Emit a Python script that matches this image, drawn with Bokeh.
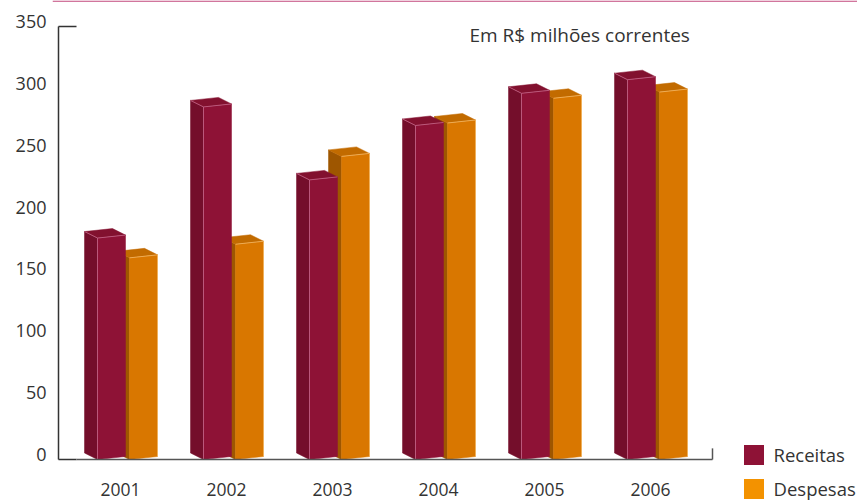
from bokeh.plotting import figure
from bokeh.models import (Range1d, LinearAxis, FixedTicker, Legend, LegendItem,
                          Label, ColumnDataSource, BoxAnnotation)
from bokeh.core.properties import value
from bokeh.embed import file_html
from bokeh.resources import INLINE

# ---------------- data ----------------
years = ["2001", "2002", "2003", "2004", "2005", "2006"]
receitas = [179, 285, 226, 270, 296, 307]
despesas = [163, 174, 245, 272, 292, 297]
y_ticks = [0, 50, 100, 150, 200, 250, 300, 350]
series_names = ["Receitas", "Despesas"]
unit_note = "Em R$ milhões correntes"

# ---------------- style ----------------
FONT = "Open Sans"
TXT = "#333333"
R_FRONT, R_SIDE, R_TOP, R_EDGE = "#8E1236", "#740E2B", "#82112F", "#C4668A"
D_FRONT, D_SIDE, D_TOP, D_EDGE = "#D97700", "#9E5600", "#C26B00", "#F3B865"
R_LEG, D_LEG = "#8E1236", "#F39200"
RULE = "#C2497C"

# geometry (1 x-unit = one group spacing of 106 px)
PX = 1 / 106.0          # x-units per pixel
K = 433 / 350.0         # pixels per value unit
W = 28 * PX             # front face width
G = 2 * PX              # half gap between the pair
DX = -13 * PX           # depth offset (x)
DY = 6.5 / K            # depth offset (y)
SK = 3 / K              # perspective skew of the front face

FIG_H = 501
ZERO = 459              # pixel row of value 0
xs0, xe0 = (52 - 127) * PX, (857 - 127) * PX
ys0, ye0 = (ZERO - FIG_H) / K, ZERO / K

p = figure(width=857, height=FIG_H, output_backend="svg", toolbar_location=None,
           x_range=Range1d(xs0, xe0), y_range=Range1d(ys0, ye0),
           x_axis_location=None, y_axis_location=None,
           min_border_left=52, min_border_right=0, min_border_top=0,
           min_border_bottom=0)
p.grid.visible = False
p.outline_line_color = None
p.background_fill_color = "white"
p.border_fill_color = "white"


def faces(x0, v):
    x1 = x0 + W
    side = ([x0 + DX, x0, x0, x0 + DX], [DY, 0, v, v + DY])
    top = ([x0, x1, x1 + DX, x0 + DX], [v, v + SK, v + SK + DY, v + DY])
    front = ([x0, x1, x1, x0], [0, SK, v + SK, v])
    return side, top, front


def draw_series(vals, offset, cols, edge_mode):
    side_c, top_c, front_c, edge_c = cols
    S = {"xs": [], "ys": []}
    T = {"xs": [], "ys": []}
    F = {"xs": [], "ys": []}
    E = {"xs": [], "ys": []}
    for i, v in enumerate(vals):
        x0 = i + offset
        s, t, f = faces(x0, v)
        for d, g in ((S, s), (T, t), (F, f)):
            d["xs"].append(g[0])
            d["ys"].append(g[1])
        x1 = x0 + W
        E["xs"].append([x0, x1])
        E["ys"].append([v, v + SK])
        if edge_mode == "left":
            E["xs"].append([x0, x0])
            E["ys"].append([0, v])
            E["xs"].append([x0, x0 + DX])
            E["ys"].append([v, v + DY])
        else:
            E["xs"].append([x1, x1])
            E["ys"].append([SK, v + SK])
    p.patches("xs", "ys", source=ColumnDataSource(S), fill_color=side_c, line_color=side_c, line_width=0.5)
    p.patches("xs", "ys", source=ColumnDataSource(T), fill_color=top_c, line_color=top_c, line_width=0.5)
    p.patches("xs", "ys", source=ColumnDataSource(F), fill_color=front_c, line_color=front_c, line_width=0.5)
    p.multi_line("xs", "ys", source=ColumnDataSource(E), line_color=edge_c, line_width=1, line_alpha=0.8)


# despesas first (behind), receitas on top
draw_series(despesas, G, (D_SIDE, D_TOP, D_FRONT, D_EDGE), "right")
draw_series(receitas, -G - W, (R_SIDE, R_TOP, R_FRONT, R_EDGE), "left")

# axis lines drawn as segments
ax_x = (58 - 127) * PX
tick_end = (76 - 127) * PX
x_end = (712 - 127) * PX
p.segment(x0=[ax_x, ax_x, ax_x], y0=[0, y_ticks[-1], 0], x1=[ax_x, tick_end, tick_end],
          y1=[y_ticks[-1], y_ticks[-1], 0], line_color="#333333", line_width=1.5)
p.segment(x0=[tick_end, x_end], y0=[0, 0], x1=[x_end, x_end], y1=[0, 9],
          line_color="#555555", line_width=1.5)

# y tick labels (shifted slightly upward as in the original)
d_lab = 5 / K
p.extra_y_ranges = {"lab": Range1d(ys0 - d_lab, ye0 - d_lab)}
yax = LinearAxis(y_range_name="lab", ticker=FixedTicker(ticks=y_ticks),
                 axis_line_color=None, major_tick_line_color=None,
                 minor_tick_line_color=None, major_tick_out=0, major_tick_in=0,
                 major_label_standoff=6, major_label_text_font=FONT,
                 major_label_text_font_size="18px", major_label_text_color=TXT)
p.add_layout(yax, "left")

# category labels under each pair of bars
lab_src = ColumnDataSource(dict(x=[i - 7 * PX for i in range(len(years))],
                                y=[-30 / K] * len(years), text=years))
p.text(x="x", y="y", text="text", source=lab_src, text_font=value(FONT),
       text_font_size="17.5px", text_color=TXT, text_align="center",
       text_baseline="middle")

# unit note
p.add_layout(Label(x=(469 - 127) * PX, y=(459 - 34) / K, text=unit_note,
                   text_font=FONT, text_font_size="19px", text_color=TXT,
                   text_baseline="alphabetic", text_align="left"))

# legend (swatch renderers hold one off-screen point each)
far = ye0 + 1000
r_leg = p.quad(left=[0], right=[0.1], top=[far + 1], bottom=[far], fill_color=R_LEG, line_color=None)
d_leg = p.quad(left=[0], right=[0.1], top=[far + 1], bottom=[far], fill_color=D_LEG, line_color=None)
legend = Legend(items=[LegendItem(label=series_names[0], renderers=[r_leg]),
                       LegendItem(label=series_names[1], renderers=[d_leg])],
                location=(688.5, 0.5), glyph_width=25, glyph_height=25,
                label_height=25, spacing=9, label_standoff=8, padding=0, margin=0,
                border_line_color=None, background_fill_alpha=0,
                label_text_font=FONT, label_text_font_size="18.5px",
                label_text_color=TXT)
p.add_layout(legend, "center")

# thin coloured rule along the top edge of the page
p.add_layout(BoxAnnotation(left=0, right=857, top=FIG_H, bottom=FIG_H - 1.2,
                           left_units="screen", right_units="screen",
                           top_units="screen", bottom_units="screen",
                           fill_color=RULE, fill_alpha=1, line_color=None,
                           level="overlay"))

open("out.html", "w").write(file_html(p, INLINE))
